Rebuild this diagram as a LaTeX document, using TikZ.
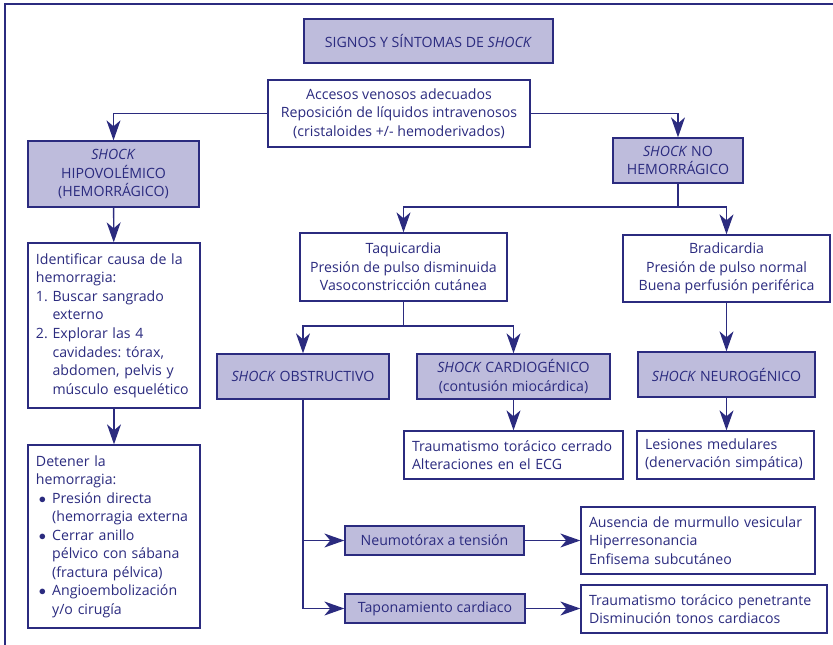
\documentclass[tikz,border=0pt]{standalone}
\usepackage{fontspec}
\setmainfont{Open Sans}
\usetikzlibrary{arrows.meta,positioning,calc}
\definecolor{navy}{HTML}{2B2B7F}
\definecolor{lila}{HTML}{BEBCDC}
\tikzset{
  box/.style={draw=navy,line width=1.3pt,text=navy,inner sep=0pt,align=center},
  shk/.style={box,fill=lila},
  wbox/.style={box,fill=white},
  lbox/.style={box,fill=white,align=left,inner xsep=8bp},
  arr/.style={navy,line width=1.3pt,-{Stealth[length=20bp,width=14bp,inset=6bp]}},
  link/.style={navy,line width=1.3pt},
}
\newcommand{\shk}{\textit{SHOCK}}
\newcommand{\bul}{$\bullet$}
\frenchspacing

\begin{document}
\begin{tikzpicture}[x=1bp,y=-1bp,font=\fontsize{14.2}{18.6}\selectfont]
\useasboundingbox (0,0) rectangle (833,645);
% frame (only left and top edges show)
\draw[navy,line width=2.8bp] (5,645) -- (5,4) -- (833,4);

% top of the chart
\node[shk,minimum width=249bp,minimum height=44bp] (title) at (428.5,41) {SIGNOS Y SÍNTOMAS DE \shk};
\node[wbox,minimum width=262bp,minimum height=67bp] (acc) at (399,113.5)
  {Accesos venosos adecuados\\Reposición de líquidos intravenosos\\(cristaloides +/- hemoderivados)};

% hemorrhagic branch
\node[shk,minimum width=171bp,minimum height=66bp] (hypo) at (113.5,174) {\shk\\HIPOVOLÉMICO\\(HEMORRÁGICO)};
\node[lbox,text width=156bp,minimum height=165bp] (ident) at (114,325.5) {%
  \begin{tabular}{@{}l@{\ }l@{}}
  \multicolumn{2}{@{}l@{}}{Identificar causa de la}\\
  \multicolumn{2}{@{}l@{}}{hemorragia:}\\
  1. & Buscar sangrado\\
     & externo\\
  2. & Explorar las 4\\
     & cavidades: tórax,\\
     & abdomen, pelvis y\\
     & músculo esquelético
  \end{tabular}};
\node[lbox,text width=156bp,minimum height=183bp] (deten) at (114,536.5) {%
  \begin{tabular}{@{\hspace{3bp}}l@{\hspace{6bp}}l@{}}
  \multicolumn{2}{@{}l@{}}{Detener la}\\
  \multicolumn{2}{@{}l@{}}{hemorragia:}\\
  \bul & Presión directa\\
       & (hemorragia externa\\
  \bul & Cerrar anillo\\
       & pélvico con sábana\\
       & (fractura pélvica)\\
  \bul & Angioembolización\\
       & y/o cirugía
  \end{tabular}};

% non-hemorrhagic branch
\node[shk,minimum width=130bp,minimum height=45bp] (nohem) at (678,160.5) {\shk{} NO\\HEMORRÁGICO};
\node[wbox,minimum width=207bp,minimum height=68bp] (taqui) at (403.5,267)
  {Taquicardia\\Presión de pulso disminuida\\Vasoconstricción cutánea};
\node[wbox,minimum width=207bp,minimum height=67bp] (brad) at (726.5,268.5)
  {Bradicardia\\Presión de pulso normal\\Buena perfusión periférica};
\node[shk,minimum width=172bp,minimum height=45bp] (obst) at (303,376.5) {\shk{} OBSTRUCTIVO};
\node[shk,minimum width=193bp,minimum height=45bp] (cardio) at (513.5,376.5) {\shk{} CARDIOGÉNICO\\(contusión miocárdica)};
\node[shk,minimum width=177bp,minimum height=45bp] (neuro) at (726.5,374.5) {\shk{} NEUROGÉNICO};
\node[lbox,text width=203bp,minimum height=48bp] (trauma) at (513.5,455)
  {Traumatismo torácico cerrado\\Alteraciones en el ECG};
\node[lbox,text width=161bp,minimum height=48bp] (lesion) at (725.5,455)
  {Lesiones medulares\\(denervación simpática)};

% obstructive causes
\node[shk,minimum width=179bp,minimum height=29bp] (neumo) at (434.5,540.5) {Neumotórax a tensión};
\node[shk,minimum width=180bp,minimum height=29bp] (tapo) at (435,608.5) {Taponamiento cardiaco};
\node[lbox,text width=218bp,minimum height=67bp] (ausen) at (698,540.5)
  {Ausencia de murmullo vesicular\\Hiperresonancia\\Enfisema subcutáneo};
\node[lbox,text width=230bp,minimum height=48bp] (traum2) at (704,609)
  {Traumatismo torácico penetrante\\Disminución tonos cardiacos};

% connectors
\coordinate (split1) at (678,207);
\coordinate (split2) at (403.5,326);
\draw[arr] (acc.west) -| (hypo.north);
\draw[arr] (acc.east) -| (nohem.north);
\draw[arr] (hypo) -- (ident);
\draw[arr] (ident) -- (deten);
\draw[link] (nohem.south) -- (split1);
\draw[arr] (split1) -| (taqui.north);
\draw[arr] (split1) -| (brad.north);
\draw[link] (taqui.south) -- (split2);
\draw[arr] (split2) -| (obst.north);
\draw[arr] (split2) -| (cardio.north);
\draw[arr] (brad) -- (neuro);
\draw[arr] (cardio) -- (trauma);
\draw[arr] (neuro.south) -- (neuro.south |- lesion.north);
\draw[arr] (obst.south) |- (neumo.west);
\draw[arr] (obst.south) |- (tapo.west);
\draw[arr] (neumo) -- (ausen);
\draw[arr] (tapo.east) -- (tapo.east -| traum2.west);
\end{tikzpicture}
\end{document}
